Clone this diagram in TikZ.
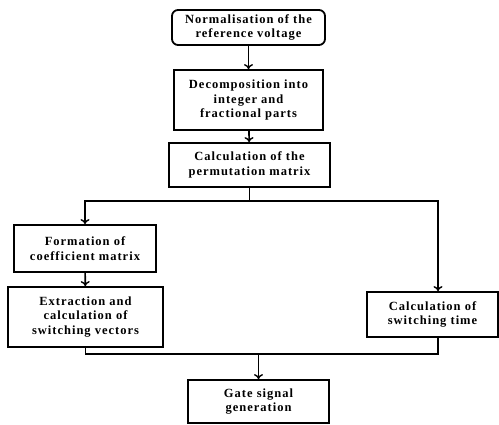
\documentclass[tikz,border=0pt]{standalone}
\usepackage{fontspec}
\usepackage{tikz}
\usetikzlibrary{arrows.meta, positioning, calc}
\newfontfamily\boxfont{Liberation Serif}[LetterSpace=8]
\tikzstyle{stepbox} = [rectangle, draw=black, fill=white, line width=1.8pt, align=center, inner sep=0pt, font=\boxfont\bfseries\fontsize{12.5}{14.5}\selectfont]
\tikzstyle{roundbox} = [stepbox, rounded corners=6pt]
\tikzstyle{arrow} = [-{To[length=5pt,width=9pt,line width=1.4pt]}, line width=1.6pt]
\tikzstyle{link} = [line width=1.6pt]

\begin{document}
\begin{tikzpicture}[x=1pt, y=-1pt]
    \useasboundingbox[fill=white] (0,0) rectangle (499,425);
    % Normalisation
    \node[roundbox, minimum width=153pt, minimum height=35pt] (norm) at (248.5, 27.5) {Normalisation of the\\reference voltage};
    
    % Decomposition
    \node[stepbox, minimum width=149pt, minimum height=60pt] (decomp) at (248.5, 100) {Decomposition into\\integer and\\fractional parts};
    
    % Permutation matrix
    \node[stepbox, minimum width=161pt, minimum height=44pt] (perm) at (249.5, 165) {Calculation of the\\permutation matrix};
    
    % Coefficient matrix
    \node[stepbox, minimum width=142pt, minimum height=47pt] (coef) at (85, 248.5) {Formation of\\coefficient matrix};
    
    % Switching vectors
    \node[stepbox, minimum width=155pt, minimum height=60pt] (vect) at (85.5, 317) {Extraction and\\calculation of\\switching vectors};
    
    % Switching time
    \node[stepbox, minimum width=131pt, minimum height=45pt] (stime) at (432.5, 314.5) {Calculation of\\switching time};
    
    % Gate signal
    \node[stepbox, minimum width=141pt, minimum height=43pt] (gate) at (258.5, 401.5) {Gate signal\\generation};
    
    % Arrows
    \draw[arrow] (norm) -- (decomp);
    \draw[arrow] (decomp) -- (perm);
    \draw[link] (perm.south) -- ++(0,13) coordinate (split);
    \draw[arrow] (split) -| (coef.north);
    \draw[arrow] (split) -| ([xshift=5.5pt]stime.north);
    \draw[arrow] (coef) -- (vect);
    \coordinate (join) at (258.5, 354);
    \draw[link] (vect.south) |- (join);
    \draw[link] ([xshift=5.5pt]stime.south) |- (join);
    \draw[arrow] (join) -- (gate.north);
\end{tikzpicture}
\end{document}
